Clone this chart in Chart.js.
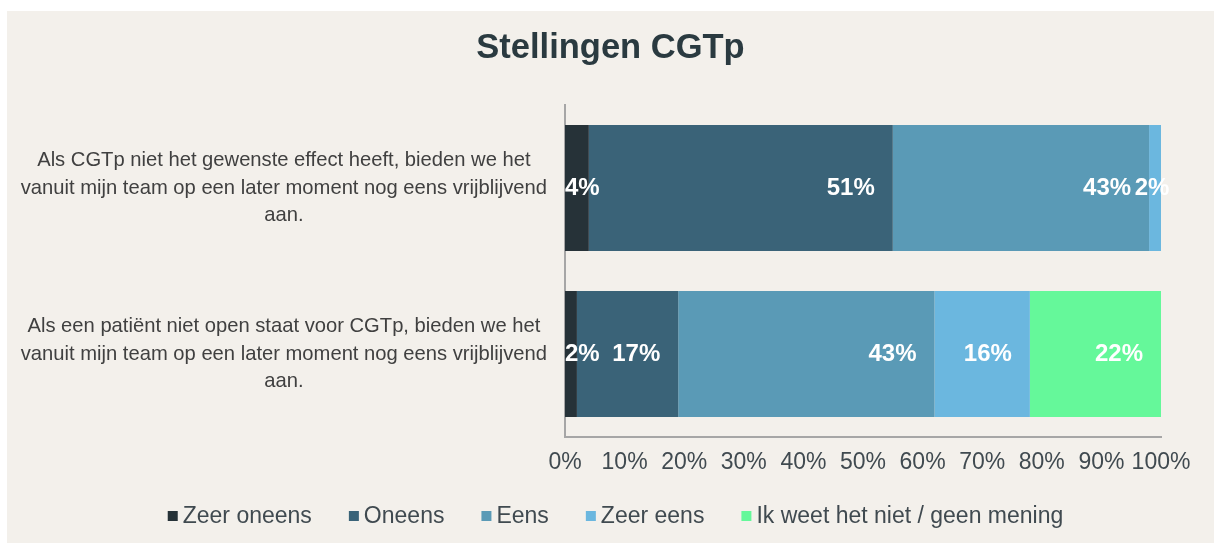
<!DOCTYPE html>
<html>
<head>
<meta charset="utf-8">
<script src="https://cdn.jsdelivr.net/npm/chart.js@4.4.0/dist/chart.umd.min.js"></script>
<style>
  body { margin: 0; background: #ffffff; }
  #wrap { position: absolute; left: 7px; top: 11px; width: 1207px; height: 532px; background: #f3f0eb; }
</style>
</head>
<body>
<div id="wrap"><canvas id="myBarChart"></canvas></div>
<script>
// Stellingen CGTp - 100% stacked horizontal bars
var chartTitle = "Stellingen CGTp";
var categories = [
    ["Als CGTp niet het gewenste effect heeft, bieden we het", "vanuit mijn team op een later moment nog eens vrijblijvend", "aan."],
    ["Als een patiënt niet open staat voor CGTp, bieden we het", "vanuit mijn team op een later moment nog eens vrijblijvend", "aan."]
];
var seriesNames = ["Zeer oneens", "Oneens", "Eens", "Zeer eens", "Ik weet het niet / geen mening"];
var zeerOneens = [4, 2];
var oneens = [51, 17];
var eens = [43, 43];
var zeerEens = [2, 16];
var weetNiet = [0, 22];
var xTicks = [0, 10, 20, 30, 40, 50, 60, 70, 80, 90, 100];

var colors = ['#263238', '#3a6378', '#5a9ab6', '#6bb7df', '#65f89a'];
var seriesValues = [zeerOneens, oneens, eens, zeerEens, weetNiet];
var FONT = '"Liberation Sans", Arial, sans-serif';

// labels at the inside end of each segment
var segmentLabels = {
    id: 'segmentLabels',
    afterDatasetsDraw: function(chart) {
        var ctx = chart.ctx;
        ctx.save();
        ctx.font = 'bold 24px ' + FONT;
        ctx.fillStyle = '#ffffff';
        ctx.textBaseline = 'middle';
        ctx.textAlign = 'left';
        chart.data.datasets.forEach(function(ds, i) {
            var meta = chart.getDatasetMeta(i);
            meta.data.forEach(function(bar, j) {
                var v = ds.data[j];
                if (!v) return;
                var txt = v + '%';
                var w = ctx.measureText(txt).width;
                var start = Math.min(bar.base, bar.x);
                var end = Math.max(bar.base, bar.x);
                var pad = 18;
                var left;
                if (w + pad + 4 <= end - start) {
                    left = end - pad - w;
                } else {
                    // too small: centre it, but keep it inside the plot on the left
                    left = (start + end) / 2 - w / 2 - 3;
                    if (left < chart.chartArea.left) left = chart.chartArea.left;
                }
                ctx.fillText(txt, left, bar.y);
            });
        });
        ctx.restore();
    }
};

// title centred on the whole canvas + legend drawn below the axis
var titleAndLegend = {
    id: 'titleAndLegend',
    afterDraw: function(chart) {
        var ctx = chart.ctx;
        ctx.save();
        ctx.fillStyle = '#2a3a40';
        ctx.font = 'bold 34.5px ' + FONT;
        ctx.textAlign = 'center';
        ctx.textBaseline = 'middle';
        ctx.fillText(chartTitle, chart.width / 2, 37.5);

        ctx.font = '23px ' + FONT;
        ctx.textAlign = 'left';
        var box = 10, gap = 5, spacing = 37;
        var items = chart.data.datasets.map(function(ds) {
            return { text: ds.label, color: ds.backgroundColor, w: ctx.measureText(ds.label).width };
        });
        var total = 0;
        items.forEach(function(it, k) {
            total += box + gap + it.w + (k < items.length - 1 ? spacing : 0);
        });
        var x = chart.width / 2 - total / 2 + 5;
        var y = chart.chartArea.bottom + 79;
        items.forEach(function(it) {
            ctx.fillStyle = it.color;
            ctx.fillRect(x, y - box / 2, box, box);
            ctx.fillStyle = '#404a50';
            ctx.fillText(it.text, x + box + gap, y + 1);
            x += box + gap + it.w + spacing;
        });
        ctx.restore();
    }
};

var ctxBar = document.getElementById("myBarChart").getContext('2d');
var myBarChart = new Chart(ctxBar, {
    type: 'bar',
    data: {
        labels: categories,
        datasets: seriesNames.map(function(name, i) {
            return {
                label: name,
                data: seriesValues[i],
                backgroundColor: colors[i],
                borderWidth: 0,
                barPercentage: 0.76,
                categoryPercentage: 1.0
            };
        })
    },
    options: {
        indexAxis: 'y',
        responsive: true,
        maintainAspectRatio: false,
        animation: false,
        layout: { padding: { left: 0, right: 53, top: 94, bottom: 0 } },
        scales: {
            x: {
                stacked: true,
                min: 0,
                max: 100,
                afterBuildTicks: function(scale) {
                    scale.ticks = xTicks.map(function(v) { return { value: v }; });
                },
                afterFit: function(scale) { scale.height = 106; },
                grid: { display: false, drawTicks: false },
                border: { display: true, color: '#a6a6a6', width: 2 },
                ticks: {
                    padding: 12,
                    autoSkip: false,
                    maxRotation: 0,
                    minRotation: 0,
                    color: '#404a50',
                    font: { size: 23, family: FONT },
                    callback: function(v) { return v + '%'; }
                }
            },
            y: {
                stacked: true,
                afterFit: function(scale) { scale.width = 558; },
                grid: { display: false, drawTicks: false },
                border: { display: true, color: '#a6a6a6', width: 2 },
                ticks: {
                    crossAlign: 'center',
                    padding: 18,
                    color: '#404040',
                    font: { size: 20.2, lineHeight: 1.35, family: FONT }
                }
            }
        },
        plugins: {
            title: { display: false },
            legend: { display: false },
            tooltip: { enabled: false }
        }
    },
    plugins: [segmentLabels, titleAndLegend]
});
</script>
</body>
</html>
